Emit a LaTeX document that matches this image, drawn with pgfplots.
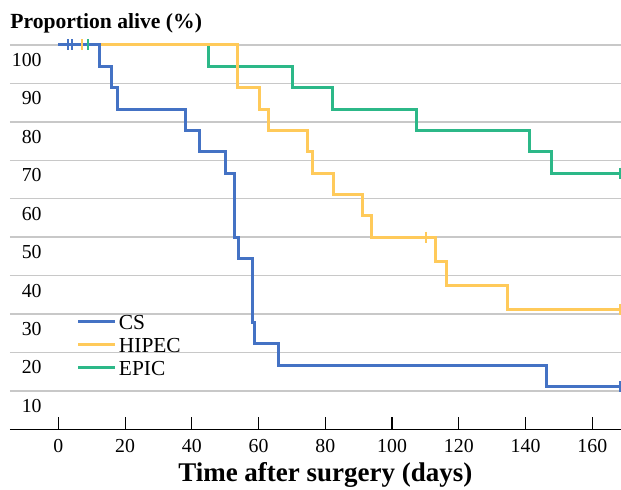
\documentclass[border=0pt]{standalone}
\usepackage{pgfplots}
\pgfplotsset{compat=1.18}
\usepackage{fontspec}
\setmainfont{Liberation Serif}

\definecolor{csblue}{RGB}{68,114,196}
\definecolor{hipecyellow}{RGB}{255,202,90}
\definecolor{epicgreen}{RGB}{44,184,136}
\definecolor{gridgray}{RGB}{200,200,200}

\begin{document}
\begin{tikzpicture}

\begin{axis}[
    scale only axis,
    width=305.5pt, height=196pt,
    xmin=-14.5, xmax=168.6,
    ymin=0, ymax=102,
    clip=false,
    axis x line*=bottom,
    axis y line*=left,
    y axis line style={draw=none},
    x axis line style={black, line width=0.65pt},
    xtick={0,20,...,160},
    ytick={10,20,...,100},
    xtick align=inside,
    major tick length=6pt,
    xtick style={black, line width=0.6pt},
    ytick style={draw=none},
    ymajorgrids,
    major grid style={gridgray, line width=0.75pt},
    /pgf/number format/assume math mode=true,
    xticklabel style={font=\fontsize{9.9}{11.8}\selectfont, anchor=north, inner sep=0pt, yshift=-4.85pt},
    yticklabel style={font=\fontsize{9.9}{11.8}\selectfont, anchor=east, inner sep=0pt, xshift=16pt, yshift=-7.5pt},
    reverse legend,
    legend style={at={(axis cs:5.5,29.9)}, anchor=north west, draw=none, fill=none,
        inner sep=0pt, outer sep=0pt, row sep=0pt,
        font=\fontsize{10.7}{12}\selectfont,
        nodes={inner sep=0pt, text height=7.5pt, text depth=4pt}},
    legend cell align=left,
    legend image code/.code={\draw[#1] (0pt,2pt) -- (18.5pt,2pt); \path (19.6pt,2pt);},
]

% EPIC
\addplot[const plot, epicgreen, line width=1.5pt] coordinates {
    (0,100) (44.9,94.44) (70.1,88.89) (82.1,83.33) (107.3,77.78)
    (141.1,72.22) (147.8,66.67) (168.3,66.67)
};
\addlegendentry{EPIC}

% HIPEC
\addplot[const plot, hipecyellow, line width=1.5pt] coordinates {
    (0,100) (53.8,88.89) (60.2,83.33) (63.1,77.78) (74.7,72.22) (76.1,66.67)
    (82.4,61.11) (91.2,55.56) (93.9,50) (113.0,43.75) (116.2,37.5)
    (134.5,31.25) (168.3,31.25)
};
\addlegendentry{HIPEC}

% CS
\addplot[const plot, csblue, line width=1.5pt] coordinates {
    (0,100) (12.3,94.44) (16.0,88.89) (17.7,83.33) (38.0,77.78) (42.2,72.22)
    (50.0,66.67) (52.9,50.00) (53.9,44.44) (58.2,27.78) (58.9,22.22)
    (65.9,16.67) (146.3,11.11) (168.3,11.11)
};
\addlegendentry{CS}

% censored
\addplot[only marks, mark=|, mark size=2.75pt, epicgreen, line width=1pt, forget plot]
    coordinates {(9.0,100) (168.3,66.67)};
\addplot[only marks, mark=|, mark size=2.75pt, hipecyellow, line width=1pt, forget plot]
    coordinates {(7.0,100) (110.2,50) (168.3,31.25)};
\addplot[only marks, mark=|, mark size=2.75pt, csblue, line width=1pt, forget plot]
    coordinates {(3.0,100) (4.0,100) (168.3,11.11)};

\node[anchor=base west, inner sep=0pt, font=\bfseries\fontsize{10.8}{13}\selectfont]
    at (axis cs:-14.5,104.3) {Proportion alive (\%)};
\node[anchor=base, inner sep=0pt, yshift=-26.3pt, font=\bfseries\fontsize{13.5}{16}\selectfont]
    at (axis cs:80,0) {Time after surgery (days)};
\end{axis}

\pgfresetboundingbox
\path ([shift={(-5pt,-30.35pt)}]current axis.south west) rectangle +(310.5pt,245pt);

\end{tikzpicture}
\end{document}
